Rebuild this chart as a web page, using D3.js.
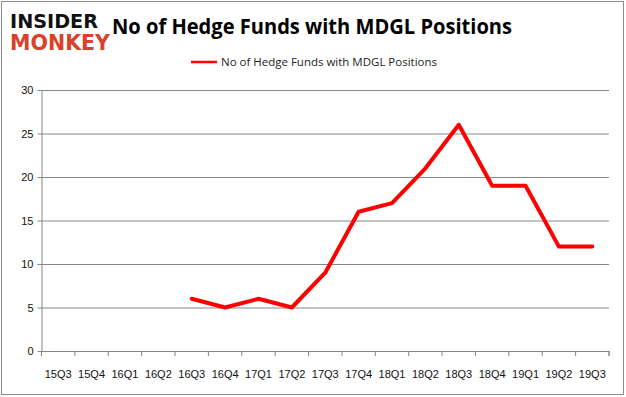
<!DOCTYPE html>
<html>
<head>
<meta charset="utf-8">
<script src="https://cdn.jsdelivr.net/npm/d3@7"></script>
<style>
  body { margin: 0; background: #fff; }
  svg { display: block; font-family: "Liberation Sans", "DejaVu Sans", sans-serif; }
</style>
</head>
<body>
<svg id="chart" width="626" height="397"></svg>
<script>
// chart data
var quarters = ["15Q3", "15Q4", "16Q1", "16Q2", "16Q3", "16Q4", "17Q1", "17Q2", "17Q3",
                "17Q4", "18Q1", "18Q2", "18Q3", "18Q4", "19Q1", "19Q2", "19Q3"];
var funds = [null, null, null, null, 6, 5, 6, 5, 9, 16, 17, 21, 26, 19, 19, 12, 12];
var yTicks = [0, 5, 10, 15, 20, 25, 30];
var seriesName = "No of Hedge Funds with MDGL Positions";

var svg = d3.select("#chart"),
    margin = {top: 90, right: 17, bottom: 46, left: 41.5},
    width = 626 - margin.left - margin.right,
    height = 397 - margin.top - margin.bottom;

// outer frame
svg.append("rect")
    .attr("x", 1.5).attr("y", 1.5)
    .attr("width", 622).attr("height", 393)
    .attr("fill", "none").attr("stroke", "#8c8c8c").attr("stroke-width", 1);

// logo
svg.append("text")
    .attr("x", 10).attr("y", 28)
    .attr("textLength", 88).attr("lengthAdjust", "spacingAndGlyphs")
    .style("font", "900 20px 'DejaVu Sans', sans-serif")
    .attr("fill", "#111")
    .text("INSIDER");
svg.append("text")
    .attr("x", 10).attr("y", 50)
    .attr("textLength", 100).attr("lengthAdjust", "spacingAndGlyphs")
    .style("font", "900 21px 'DejaVu Sans', sans-serif")
    .attr("fill", "#d9412b")
    .text("MONKEY");

// title
svg.append("text")
    .attr("x", 112).attr("y", 34)
    .attr("textLength", 400).attr("lengthAdjust", "spacingAndGlyphs")
    .style("font", "bold 21px 'Open Sans', 'Liberation Sans', sans-serif")
    .attr("fill", "#000")
    .text(seriesName);

// legend
svg.append("line")
    .attr("x1", 191).attr("x2", 217).attr("y1", 62).attr("y2", 62)
    .attr("stroke", "#ff0000").attr("stroke-width", 2.5);
svg.append("text")
    .attr("x", 221).attr("y", 66)
    .attr("textLength", 216).attr("lengthAdjust", "spacingAndGlyphs")
    .style("font", "11px 'Open Sans', 'Liberation Sans', sans-serif")
    .attr("fill", "#222")
    .text(seriesName);

var x = d3.scaleBand().domain(quarters).range([0, width]),
    y = d3.scaleLinear().domain([0, 30]).range([height, 0]);

var g = svg.append("g")
    .attr("transform", "translate(" + margin.left + "," + margin.top + ")");

// horizontal grid + y axis
var yAxis = g.append("g")
    .attr("class", "axis axis--y")
    .call(d3.axisLeft(y).tickValues(yTicks).tickSize(-width).tickPadding(8));
yAxis.select(".domain").attr("stroke", "#868686");
yAxis.selectAll(".tick line").attr("stroke", "#868686").attr("x1", -4);
yAxis.selectAll(".tick text")
    .style("font", "11px 'Liberation Sans', sans-serif").attr("fill", "#111");

// x axis with ticks at band edges
var xAxis = g.append("g")
    .attr("class", "axis axis--x")
    .attr("transform", "translate(0," + height + ")")
    .call(d3.axisBottom(x).tickSize(0).tickPadding(19));
xAxis.select(".domain").attr("stroke", "#868686");
xAxis.selectAll(".tick text")
    .style("font", "11px 'Liberation Sans', sans-serif").attr("fill", "#111");
var edges = quarters.map(function(q) { return x(q); }).concat([width]);
xAxis.selectAll(".edge").data(edges)
  .enter().append("line")
    .attr("class", "edge")
    .attr("x1", function(d) { return d; }).attr("x2", function(d) { return d; })
    .attr("y1", 0).attr("y2", 5)
    .attr("stroke", "#868686");

// right edge of plot
g.append("line")
    .attr("x1", width).attr("x2", width)
    .attr("y1", height).attr("y2", height + 5)
    .attr("stroke", "#868686");

// series line
var line = d3.line()
    .defined(function(d) { return d != null; })
    .x(function(d, i) { return x(quarters[i]) + x.bandwidth() / 2; })
    .y(function(d) { return y(d); });

g.append("path")
    .datum(funds)
    .attr("fill", "none")
    .attr("stroke", "#ff0000")
    .attr("stroke-width", 4)
    .attr("stroke-linejoin", "round")
    .attr("stroke-linecap", "round")
    .attr("d", line);
</script>
</body>
</html>
